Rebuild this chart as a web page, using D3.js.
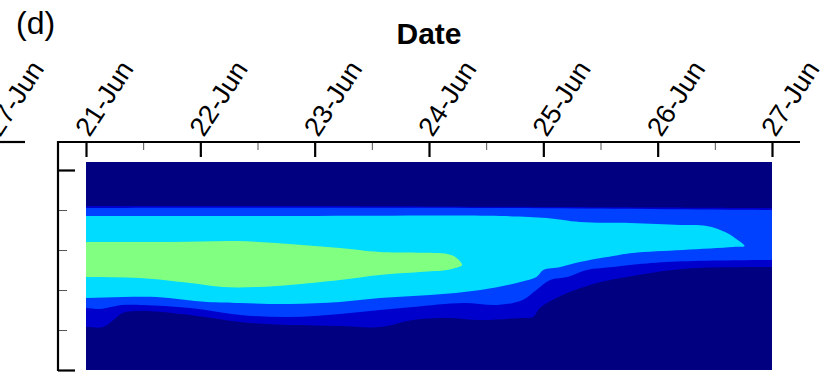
<!DOCTYPE html>
<html>
<head>
  <meta charset="utf-8">
  <script src="https://d3js.org/d3.v7.min.js"></script>
  <style>
    body { margin: 0; background: #fff; }
    text { font-family: "Liberation Sans", Arial, sans-serif; fill: #000; }
    .tick line { stroke: #000; }
  </style>
</head>
<body>
<div id="plot"></div>
<script>
// tick labels along the top (date) axis
var tickLabels = ["21-Jun", "22-Jun", "23-Jun", "24-Jun", "25-Jun", "26-Jun", "27-Jun"];
var heightTicks = [0, 1, 2, 3, 4, 5];

// fill colours, lowest level first
var levelColors = ["#000080", "#0000cd", "#0040ff", "#00dcff", "#80ff80"];

// contour boundaries: [days since 21-Jun 00:00, height]
var darkTop = [[0, 4.1], [3, 4.09], [6, 4.05]];
var darkBottom = [[0, 1.075], [0.15, 1.075], [0.24, 1.25], [0.32, 1.425], [0.5, 1.475], [0.91, 1.375],
  [1.35, 1.2], [1.78, 1.125], [2.22, 1.1], [2.57, 1.075], [2.86, 1.25], [3.16, 1.3], [3.45, 1.25],
  [3.8, 1.3], [3.91, 1.325], [3.97, 1.55], [4.08, 1.75], [4.21, 1.925], [4.47, 2.175], [4.73, 2.325],
  [5.22, 2.525], [6, 2.575]];

var blueTop = [[0, 4.05], [3.5, 4.05], [6, 4.0]];
var blueBottom = [[0, 1.55], [0.12, 1.525], [0.32, 1.625], [0.5, 1.625], [0.91, 1.55], [1.35, 1.375],
  [1.78, 1.325], [2.22, 1.4], [2.57, 1.5], [2.86, 1.575], [3.3, 1.675], [3.6, 1.625], [3.82, 1.75],
  [3.94, 2.0], [4.06, 2.25], [4.21, 2.325], [4.38, 2.5], [4.61, 2.575], [4.76, 2.625], [5.08, 2.7],
  [6, 2.75]];

var cyanTop = [[0, 3.85], [1.87, 3.85], [3.62, 3.85], [4.03, 3.8], [4.32, 3.7], [4.76, 3.675],
  [5.2, 3.625], [5.43, 3.6], [5.59, 3.45], [5.7, 3.25], [5.76, 3.1]];
var cyanBottom = [[0, 1.8], [0.32, 1.825], [0.62, 1.825], [1.06, 1.7], [1.35, 1.675], [1.78, 1.65],
  [2.22, 1.7], [2.57, 1.8], [3.01, 1.875], [3.45, 2.0], [3.8, 2.2], [3.94, 2.325], [4.0, 2.5],
  [4.15, 2.575], [4.32, 2.7], [4.61, 2.85], [4.78, 2.925], [5.22, 3.0], [5.66, 3.075]];

var greenTop = [[0, 3.2], [0.76, 3.2], [1.32, 3.225], [1.78, 3.15], [2.22, 3.05], [2.57, 2.95],
  [3.16, 2.9], [3.23, 2.825], [3.29, 2.625]];
var greenBottom = [[0, 2.325], [0.47, 2.3], [0.91, 2.175], [1.2, 2.075], [1.5, 2.075], [1.78, 2.125],
  [2.22, 2.25], [2.57, 2.375], [2.92, 2.45], [3.16, 2.5], [3.23, 2.55]];

var W = 837, H = 381;
var start = new Date(2019, 5, 21);
function toDate(t) { return new Date(+start + t * 864e5); }

var x = d3.scaleTime()
  .domain([start, toDate(6)])
  .range([86, 772]);
var y = d3.scaleLinear()
  .domain([0, 5.2])
  .range([370, 162]);

var svg = d3.select('#plot').append('svg')
  .attr('width', W)
  .attr('height', H);

svg.append('clipPath').attr('id', 'clip')
  .append('rect')
  .attr('x', x.range()[0]).attr('y', y(5.2))
  .attr('width', x.range()[1] - x.range()[0])
  .attr('height', y(0) - y(5.2));

var plot = svg.append('g').attr('clip-path', 'url(#clip)');

// background level
plot.append('rect')
  .attr('x', x.range()[0]).attr('y', y(5.2))
  .attr('width', x.range()[1] - x.range()[0])
  .attr('height', y(0) - y(5.2))
  .style('fill', levelColors[0]);

var line = d3.line()
  .x(function(d) { return x(toDate(d[0])); })
  .y(function(d) { return y(d[1]); })
  .curve(d3.curveCatmullRom.alpha(0.5));

// carry a boundary past the plot edges so the closing segments fall outside the clip
function extend(b) {
  var out = b.slice();
  if (out[0][0] === 0) out.unshift([-0.4, out[0][1]]);
  if (out[out.length - 1][0] === 6) out.push([6.4, out[out.length - 1][1]]);
  return out;
}

var bands = [
  [darkTop, darkBottom],
  [blueTop, blueBottom],
  [cyanTop, cyanBottom],
  [greenTop, greenBottom]
];

bands.forEach(function(b, i) {
  var pts = extend(b[0]).concat(extend(b[1]).reverse());
  plot.append('path')
    .attr('d', line(pts) + 'Z')
    .style('fill', levelColors[i + 1]);
});

// top date axis
var dayTicks = d3.range(7).map(function(i) { return toDate(i); });
var halfTicks = d3.range(6).map(function(i) { return toDate(i + 0.5); });

var topAxis = svg.append('g').attr('transform', 'translate(0,142)');

topAxis.append('g')
  .call(d3.axisTop(x).tickValues(halfTicks).tickSize(-8).tickFormat(''))
  .call(function(g) { g.select('.domain').remove(); })
  .selectAll('line').style('stroke', '#555').style('stroke-width', 1);

var xAxis = topAxis.append('g')
  .call(d3.axisTop(x).tickValues(dayTicks).tickSizeInner(-15).tickSizeOuter(0)
    .tickFormat(function(d, i) { return tickLabels[i]; }));
xAxis.select('.domain').remove();
xAxis.selectAll('line').style('stroke-width', 2.2);
xAxis.selectAll('text')
  .attr('y', 0).attr('dy', null)
  .attr('text-anchor', 'start')
  .attr('transform', 'translate(3,-4) rotate(-57)')
  .style('font-size', '27px');

topAxis.append('line')
  .attr('x1', 58).attr('x2', 800)
  .attr('y1', 0).attr('y2', 0)
  .style('stroke', '#000').style('stroke-width', 2.2);

// left height axis (no labels)
var yAxis = svg.append('g')
  .attr('transform', 'translate(58,0)')
  .call(d3.axisRight(y).tickValues(heightTicks).tickSize(9).tickFormat(''));
yAxis.select('.domain').remove();
yAxis.selectAll('line')
  .attr('x2', function(d) { return (d === 0 || d === 5) ? 17 : 9; })
  .style('stroke-width', function(d) { return (d === 0 || d === 5) ? 2.2 : 1; })
  .style('stroke', function(d) { return (d === 0 || d === 5) ? '#000' : '#555'; });

svg.append('line')
  .attr('x1', 58).attr('x2', 58)
  .attr('y1', 141).attr('y2', y(0) + 1)
  .style('stroke', '#000').style('stroke-width', 2.2);

// edge of the neighbouring panel
svg.append('line')
  .attr('x1', 0).attr('x2', 25)
  .attr('y1', 142).attr('y2', 142)
  .style('stroke', '#000').style('stroke-width', 2.2);
svg.append('text')
  .attr('transform', 'translate(0,138) rotate(-57)')
  .style('font-size', '27px')
  .text(tickLabels[6]);

// titles
svg.append('text')
  .attr('x', (x.range()[0] + x.range()[1]) / 2)
  .attr('y', 44)
  .attr('text-anchor', 'middle')
  .style('font-size', '30px')
  .style('font-weight', 'bold')
  .text('Date');

svg.append('text')
  .attr('x', 16)
  .attr('y', 34)
  .style('font-size', '32px')
  .text('(d)');
</script>
</body>
</html>
